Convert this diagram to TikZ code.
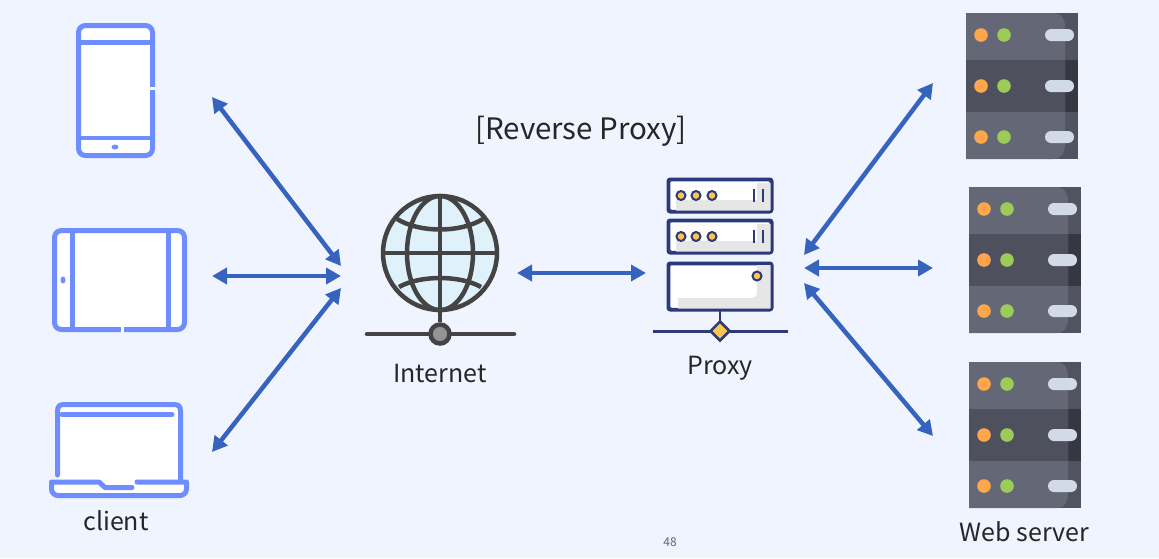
\documentclass[tikz,border=0pt]{standalone}
\usepackage{fontspec}
\setmainfont{Noto Sans CJK KR}
\usetikzlibrary{arrows.meta,shapes.geometric}
\definecolor{pagebg}{HTML}{F0F4FF}
\definecolor{arrowblue}{HTML}{3563BE}
\definecolor{deviceblue}{HTML}{6E8EFF}
\definecolor{globedark}{HTML}{444444}
\definecolor{globefill}{HTML}{DFF1FB}
\definecolor{proxynavy}{HTML}{2B3A7A}
\definecolor{proxyyellow}{HTML}{FDC44F}
\definecolor{proxyshade}{HTML}{E6E6E6}
\definecolor{racklight}{HTML}{646776}
\definecolor{rackmid}{HTML}{4F505E}
\definecolor{rackside}{HTML}{525361}
\definecolor{rackdark}{HTML}{373741}
\definecolor{ledorange}{HTML}{FFA64D}
\definecolor{ledgreen}{HTML}{9CCB57}
\definecolor{rackpill}{HTML}{D2DAE8}

\begin{document}
\begin{tikzpicture}[x=1pt,y=-1pt,
		>={Triangle[length=15pt,width=16pt]},
		link/.style={<->,color=arrowblue,line width=4.5pt},
		device/.style={rectangle,rounded corners=7pt,draw=deviceblue,fill=white,line width=5pt,inner sep=0pt},
		devline/.style={draw=deviceblue,line width=5pt,line cap=round},
		gridline/.style={draw=globedark,line width=4.5pt},
		unitbox/.style={rectangle,rounded corners=2.5pt,draw=proxynavy,fill=white,line width=2.5pt,inner sep=0pt,minimum width=102pt},
		lamp/.style={circle,draw=proxynavy,fill=proxyyellow,line width=2pt,inner sep=0pt,minimum size=9pt},
		caption/.style={font=\fontsize{25}{30}\selectfont,text=black!85,inner sep=0pt},
		serverrack/.pic={
			\fill[rackside] (0,0) rectangle (112,146);
			\fill[rackdark] (99,47) rectangle (112,98.5);
			\fill[racklight] (0,0) -- (88,0) .. controls (95,0) and (99,6) .. (99,14) -- (99,132)
				.. controls (99,140) and (95,146) .. (88,146) -- (0,146) -- cycle;
			\fill[rackmid] (0,47) rectangle (99,98.5);
			\foreach \ypos in {22,73,124} {
				\fill[ledorange] (15,\ypos) circle (6.8pt);
				\fill[ledgreen] (38,\ypos) circle (6.8pt);
				\fill[rackpill,rounded corners=6pt] (79,\ypos-6) rectangle (108,\ypos+6);
			}
		}]
		\useasboundingbox (0,0) rectangle (1159,558);
		\fill[pagebg] (0,0) rectangle (1159,558);

		% clients
		\node[device,minimum width=74pt,minimum height=130pt] (phone) at (115.5,90.5) {};
		\draw[devline,line cap=butt] (78.5,42) -- (152.5,42);
		\draw[devline,line cap=butt,line width=4pt] (78.5,138) -- (152.5,138);
		\fill[deviceblue] (115,147) ellipse (3.5pt and 2.5pt);
		\draw[white,line width=3pt] (150,88) -- (156,88);

		\node[device,minimum width=130pt,minimum height=99pt] (tablet) at (119.5,280) {};
		\draw[devline,line cap=butt] (72,230.5) -- (72,329.5);
		\draw[devline,line cap=butt] (168,230.5) -- (168,329.5);
		\fill[deviceblue] (63,280) ellipse (2.5pt and 3.5pt);
		\draw[white,line width=3pt] (122,327) -- (122,333);

		\fill[white] (58,405) rectangle (180,482);
		\draw[devline] (57.5,475) -- (57.5,411) .. controls (57.5,406) and (60,404.5) .. (64,404.5)
			-- (174,404.5) .. controls (178,404.5) and (180.5,406) .. (180.5,411) -- (180.5,480);
		\draw[devline] (62,414.5) -- (172,414.5);
		\fill[white] (52,482) rectangle (186,495);
		\draw[devline,line join=round] (137,482) -- (186.5,482) -- (186.5,489) .. controls (186.5,493) and (183,495.5) .. (180,495.5)
			-- (58,495.5) .. controls (55,495.5) and (51.5,493) .. (51.5,489) -- (51.5,482) -- (99,482)
			-- (105,487.5) -- (132,487.5);
		\node[caption] (clientlbl) at (116,521) {client};

		% internet
		\fill[globefill] (440,253) circle (57pt);
		\draw[gridline] (440,253) circle (57pt);
		\draw[gridline] (440,253) ellipse (33pt and 57pt);
		\draw[gridline] (440,196) -- (440,322);
		\draw[gridline] (383,253) -- (497,253);
		\draw[gridline] (397,219) .. controls (420,233) and (460,233) .. (483,219);
		\draw[gridline] (399,287) .. controls (420,275) and (460,275) .. (481,287);
		\draw[gridline,line cap=round] (367,334) -- (514,334);
		\node[circle,draw=globedark,fill=black!42,line width=4.5pt,minimum size=19pt,inner sep=0pt] (hub) at (440,334) {};
		\node[caption] (internetlbl) at (440,373) {Internet};

		% proxy
		\node[unitbox,minimum height=31pt] (unita) at (720,195.5) {};
		\node[unitbox,minimum height=31pt] (unitb) at (720,236.5) {};
		\node[unitbox,minimum height=45pt] (unitc) at (720,286.5) {};
		\fill[proxyshade] (676,200) -- (757,200) -- (757,183) -- (770.7,183) -- (770.7,210.7) -- (676,210.7) -- cycle;
		\fill[proxyshade] (676,241) -- (757,241) -- (757,224) -- (770.7,224) -- (770.7,251.7) -- (676,251.7) -- cycle;
		\fill[proxyshade] (678,298) -- (752,298) .. controls (755,298) and (757,296) .. (757,292) -- (757,265) -- (770.7,265) -- (770.7,308.7) -- (678,308.7) -- cycle;
		\foreach \ypos/\boxname in {195.5/unita,236.5/unitb} {
			\draw[draw=proxynavy,line width=2.5pt,rounded corners=2.5pt] (\boxname.north west) rectangle (\boxname.south east);
			\foreach \xpos in {681,696,712}
				\node[lamp] at (\xpos,\ypos) {};
			\draw[proxynavy,line width=2.5pt] (754,\ypos-6.5) -- (754,\ypos+6.5) (763,\ypos-6.5) -- (763,\ypos+6.5);
		}
		\draw[draw=proxynavy,line width=2.5pt,rounded corners=2.5pt] (unitc.north west) rectangle (unitc.south east);
		\node[lamp] (lampc) at (757,276) {};
		\draw[proxynavy,line width=2.5pt] (unitc.south) -- (720,331);
		\draw[proxynavy,line width=3pt] (653,331) -- (788,331);
		\node[diamond,draw=proxynavy,fill=proxyyellow,line width=2.5pt,minimum size=20pt,inner sep=0pt] (gate) at (720,331) {};
		\node[caption] (proxylbl) at (720,368) {Proxy};

		% web servers
		\pic (rack1) at (966,13) {serverrack};
		\pic (rack2) at (969,187) {serverrack};
		\pic (rack3) at (969,362) {serverrack};
		\node[caption] (weblbl) at (1024.5,532) {Web server};

		\node[caption,font=\fontsize{29.5}{34}\selectfont] (title) at (581,131) {[Reverse Proxy]};
		\node[font=\fontsize{12}{14}\selectfont,text=black!60,inner sep=0pt] (pagenum) at (670,542) {48};

		% link ends
		\coordinate (phoneport) at (212,97);
		\coordinate (tabletport) at (212,276);
		\coordinate (laptopport) at (212,452);
		\coordinate (netwesta) at (341,266);
		\coordinate (netwestb) at (341,276);
		\coordinate (netwestc) at (341,288);
		\coordinate (neteast) at (517,273);
		\coordinate (proxywest) at (646,273);
		\coordinate (proxyeasta) at (804,255);
		\coordinate (proxyeastb) at (804,268);
		\coordinate (proxyeastc) at (804,283);
		\coordinate (webporta) at (933,83);
		\coordinate (webportb) at (933,268);
		\coordinate (webportc) at (933,436);

		\draw[link] (phoneport) -- (netwesta);
		\draw[link] (tabletport) -- (netwestb);
		\draw[link] (laptopport) -- (netwestc);
		\draw[link] (neteast) -- (proxywest);
		\draw[link] (proxyeasta) -- (webporta);
		\draw[link] (proxyeastb) -- (webportb);
		\draw[link] (proxyeastc) -- (webportc);
\end{tikzpicture}
\end{document}
